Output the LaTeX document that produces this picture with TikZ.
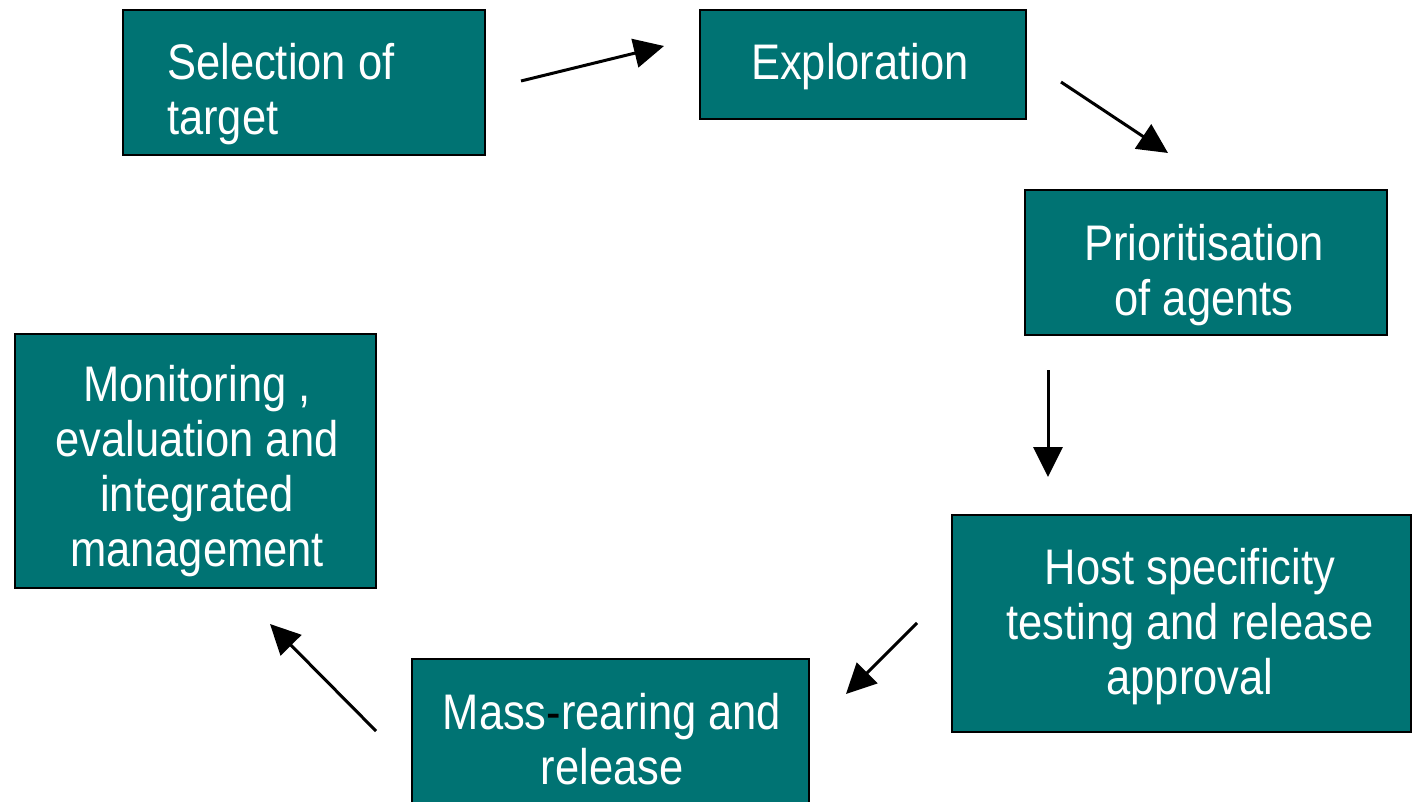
\documentclass[tikz,border=0pt]{standalone}
\usepackage{fontspec}
\setmainfont{Liberation Sans}[FakeStretch=0.87]
\usetikzlibrary{arrows.meta}
\definecolor{teal1}{RGB}{0,115,115}
\tikzset{
  box/.style={draw=black, line width=2.5pt, fill=teal1, inner sep=0pt},
  txt/.style={text=white, inner sep=0pt, align=center, font=\fontsize{50}{55}\selectfont},
  arr/.style={line width=3pt, -{Triangle[length=30pt,width=29pt]}}
}
\begin{document}
\begin{tikzpicture}[x=1pt,y=-1pt]
\useasboundingbox (0,0) rectangle (1412,802);
\clip (0,0) rectangle (1412,802);
% boxes
\node[box, minimum width=362pt, minimum height=145pt] (sel) at (304,82.5) {};
\node[box, minimum width=326pt, minimum height=109pt] (expl) at (863,64.5) {};
\node[box, minimum width=362pt, minimum height=145pt] (prio) at (1206,262.5) {};
\node[box, minimum width=459pt, minimum height=217pt] (host) at (1181.5,623.5) {};
\node[box, minimum width=397pt, minimum height=160pt] (mass) at (610.5,739) {};
\node[box, minimum width=361pt, minimum height=254pt] (mon) at (195.5,461) {};
% texts
\node[txt, align=left, anchor=west] (selT) at (167,94) {Selection of\\target};
\node[txt] (explT) at (860,67) {Exploration};
\node[txt] (prioT) at (1204,275) {Prioritisation\\ of agents};
\node[txt] (hostT) at (1190,627) {Host specificity\\ testing and release\\approval};
\node[txt] (massT) at (612,739) {Mass{\color{black}-}rearing and\\release};
\node[txt] (monT) at (197,471) {Monitoring ,\\evaluation and\\integrated\\management};
% arrow ends
\coordinate (a1s) at (521,81);  \coordinate (a1e) at (664,46);
\coordinate (a2s) at (1061,82); \coordinate (a2e) at (1168,153);
\coordinate (a3s) at (1048,370); \coordinate (a3e) at (1048,477);
\coordinate (a4s) at (917,623); \coordinate (a4e) at (846,694);
\coordinate (a5s) at (376,731); \coordinate (a5e) at (270,624);
\draw[arr] (a1s) -- (a1e);
\draw[arr] (a2s) -- (a2e);
\draw[arr] (a3s) -- (a3e);
\draw[arr] (a4s) -- (a4e);
\draw[arr] (a5s) -- (a5e);
\end{tikzpicture}
\end{document}
